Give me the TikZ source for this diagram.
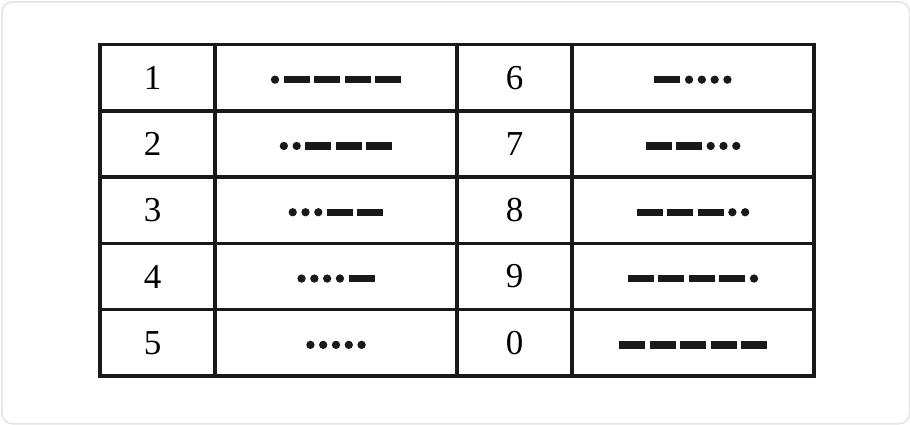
\documentclass[tikz,border=0pt]{standalone}
\usepackage{fontspec}
\setmainfont{Liberation Serif}
\usetikzlibrary{positioning}

\begin{document}
\begin{tikzpicture}[x=1pt, y=-1pt]

  \tikzstyle{frame}=[draw=black!11, line width=1.5pt, rounded corners=11pt]
  \tikzstyle{cell}=[draw=black!90, line width=3.5pt, minimum height=66.3pt, inner sep=0pt, outer sep=0pt, font=\fontsize{35}{40}\selectfont]
  \tikzstyle{numcell}=[cell, minimum width=115pt]
  \tikzstyle{leftnum}=[numcell, execute at begin node=\hspace*{-10pt}]
  \tikzstyle{codecell}=[cell, minimum width=242pt]
  \tikzstyle{dit}=[circle, fill=black!90, minimum size=8.3pt, inner sep=0pt, outer sep=0pt]
  \tikzstyle{dah}=[rectangle, fill=black!90, minimum width=26pt, minimum height=7.3pt, inner sep=0pt, outer sep=0pt]

  \useasboundingbox (0,0) rectangle (910,424);
  \node [frame, anchor=north west, minimum width=908pt, minimum height=422pt] (bg) at (1,1) {};

  % table cells, row by row
  \node [leftnum] (n1) at (157.5,77.65) {1};
  \node [codecell, right=0pt of n1] (m1) {};
  \node [numcell, right=0pt of m1] (n6) {6};
  \node [codecell, right=0pt of n6] (m6) {};
  \foreach \a/\b/\up in {2/7/1, 3/8/2, 4/9/3, 5/0/4} {
    \node [leftnum, below=0pt of n\up] (n\a) {\a};
    \node [codecell, right=0pt of n\a] (m\a) {};
    \node [numcell, right=0pt of m\a] (n\b) {\b};
    \node [codecell, right=0pt of n\b] (m\b) {};
  }

  % morse signs, centred in the code cells
  \foreach \d/\ndit/\code in {1/1/{dit,dah,dah,dah,dah}, 2/2/{dit,dit,dah,dah,dah},
      3/3/{dit,dit,dit,dah,dah}, 4/4/{dit,dit,dit,dit,dah}, 5/5/{dit,dit,dit,dit,dit},
      6/4/{dah,dit,dit,dit,dit}, 7/3/{dah,dah,dit,dit,dit}, 8/2/{dah,dah,dah,dit,dit},
      9/1/{dah,dah,dah,dah,dit}, 0/0/{dah,dah,dah,dah,dah}} {
    \pgfmathsetmacro\w{18+8.3*\ndit+26*(5-\ndit)}
    \foreach \s [count=\k] in \code {
      \ifnum\k=1
        \node [\s, anchor=west, xshift=-\w/2, yshift=-2pt] (m\d-1) at (m\d.center) {};
      \else
        \pgfmathtruncatemacro\p{\k-1}
        \node [\s, right=4.5pt of m\d-\p] (m\d-\k) {};
      \fi
    }
  }
\end{tikzpicture}
\end{document}
